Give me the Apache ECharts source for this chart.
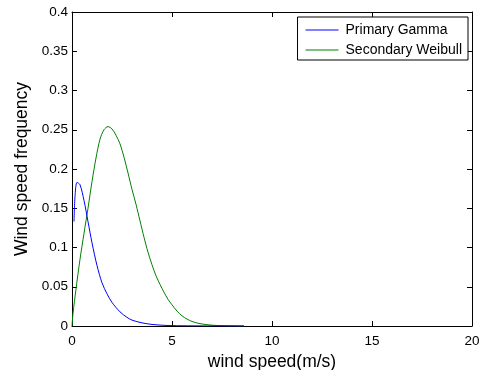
<!DOCTYPE html>
<html>
<head>
<meta charset="utf-8">
<script src="https://cdn.jsdelivr.net/npm/echarts@6/dist/echarts.min.js"></script>
<style>
  html, body { margin: 0; padding: 0; background: #fff; }
  #chart { width: 485px; height: 370px; }
</style>
</head>
<body>
<div id="chart"></div>
<script>
// Wind speed samples (m/s) and fitted frequencies
const gammaSpeed = [0.1, 0.15, 0.25, 0.4, 0.6, 0.8, 1.0, 1.25, 1.5, 1.75, 2.0, 2.4, 2.75, 3.0, 3.5, 4.0, 4.5, 5.0, 6.0, 7.0, 8.6];
const gammaFreq  = [0.133, 0.165, 0.183, 0.180, 0.160, 0.133, 0.106, 0.077, 0.055, 0.041, 0.030, 0.018, 0.011, 0.0075, 0.004, 0.002, 0.001, 0.0005, 0.0002, 0.0001, 0.0];

const weibullSpeed = [0, 0.05, 0.2, 0.4, 0.6, 0.8, 1.0, 1.2, 1.4, 1.6, 1.8, 2.0, 2.2, 2.4, 2.6, 2.8, 3.0, 3.2, 3.4, 3.6, 3.8, 4.0, 4.2, 4.4, 4.6, 4.8, 5.0, 5.25, 5.5, 5.75, 6.0, 6.4, 7.0, 7.5, 8.6];
const weibullFreq  = [0, 0.016, 0.047, 0.085, 0.118, 0.150, 0.184, 0.214, 0.238, 0.250, 0.254, 0.251, 0.243, 0.232, 0.215, 0.195, 0.174, 0.155, 0.134, 0.113, 0.094, 0.078, 0.064, 0.053, 0.043, 0.034, 0.027, 0.019, 0.013, 0.0088, 0.0058, 0.003, 0.001, 0.0005, 0.0001];

const seriesNames = ['Primary Gamma', 'Secondary Weibull'];
const xTitle = 'wind speed(m/s)';
const yTitle = 'Wind speed frequency';

const FONT = 'Liberation Sans, Arial, sans-serif';

function pairs(xs, ys) { return xs.map((x, i) => [x, ys[i]]); }

const boxAxis = {
  type: 'value',
  axisLine: { show: true, onZero: false, lineStyle: { color: '#000', width: 1 } },
  axisTick: { show: true, inside: true, length: 5, lineStyle: { color: '#000', width: 1 } },
  splitLine: { show: false }
};

const chart = echarts.init(document.getElementById('chart'), null, { renderer: 'canvas' });
chart.setOption({
  animation: false,
  backgroundColor: '#fff',
  grid: { left: 72, right: 13, top: 12, bottom: 44, containLabel: false, outerBoundsMode: 'none' },
  legend: {
    data: seriesNames,
    orient: 'vertical',
    right: 17,
    top: 17,
    backgroundColor: '#fff',
    borderColor: '#000',
    borderWidth: 1,
    borderRadius: 0,
    padding: [6, 6, 3, 8],
    itemGap: 6,
    itemWidth: 33,
    itemHeight: 14,
    icon: 'path://M0,0 L33,0 L33,1 L0,1 Z',
    textStyle: { fontFamily: FONT, fontSize: 14, color: '#000', padding: [0, 0, 0, 2] }
  },
  xAxis: [
    Object.assign({}, boxAxis, {
      min: 0, max: 20, interval: 5, position: 'bottom',
      name: xTitle, nameLocation: 'middle', nameGap: 27,
      nameTextStyle: { fontFamily: FONT, fontSize: 17.5, color: '#000' },
      axisLabel: { fontFamily: FONT, fontSize: 13.5, color: '#000', margin: 8 }
    }),
    Object.assign({}, boxAxis, {
      min: 0, max: 20, interval: 5, position: 'top',
      axisLabel: { show: false }
    })
  ],
  yAxis: [
    Object.assign({}, boxAxis, {
      min: 0, max: 0.4, interval: 0.05, position: 'left',
      name: yTitle, nameLocation: 'middle', nameGap: 40,
      nameTextStyle: { fontFamily: FONT, fontSize: 17.5, color: '#000' },
      axisLabel: { fontFamily: FONT, fontSize: 13.5, color: '#000', margin: 4,
        formatter: v => String(+v.toFixed(2)) }
    }),
    Object.assign({}, boxAxis, {
      min: 0, max: 0.4, interval: 0.05, position: 'right',
      axisLabel: { show: false }
    })
  ],
  series: [
    {
      name: seriesNames[0], type: 'line', xAxisIndex: 0, yAxisIndex: 0,
      symbol: 'none', smooth: 0.3, z: 3,
      lineStyle: { color: '#0000ff', width: 1 }, itemStyle: { color: '#0000ff' },
      data: pairs(gammaSpeed, gammaFreq)
    },
    {
      name: seriesNames[1], type: 'line', xAxisIndex: 0, yAxisIndex: 0,
      symbol: 'none', smooth: 0.3, z: 2,
      lineStyle: { color: '#008000', width: 1 }, itemStyle: { color: '#008000' },
      data: pairs(weibullSpeed, weibullFreq)
    }
  ]
});
</script>
</body>
</html>
